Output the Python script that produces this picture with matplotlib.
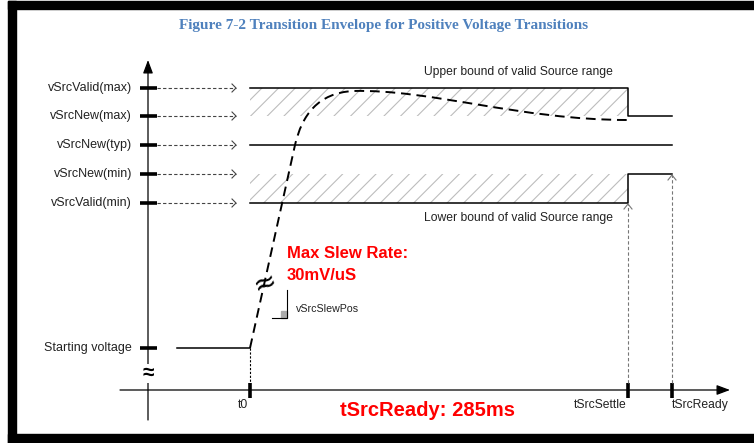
import numpy as np
import matplotlib.pyplot as plt
from matplotlib.path import Path
from matplotlib.patches import PathPatch, Rectangle

plt.rcParams['font.family'] = ['Liberation Sans', 'DejaVu Sans']
plt.rcParams['hatch.linewidth'] = 0.8

# voltage levels (pixel rows in the drawing) and their names
level_names = ['vSrcValid(max)', 'vSrcNew(max)', 'vSrcNew(typ)',
               'vSrcNew(min)', 'vSrcValid(min)', 'Starting voltage']
level_y = [88, 116, 145, 174, 203, 348]

# time marks
time_names = ['t0', 'tSrcSettle', 'tSrcReady']
time_x = [250, 628, 672]
time_label_x = [243, 600, 700]

# transition curve control points (line, then two cubic beziers)
curve_x = [250, 295, 302, 318, 353, 430, 520, 628]
curve_y = [348, 145, 115, 93, 91, 89, 120, 120]

axis_x = 148
axis_y = 390

fig = plt.figure(figsize=(7.54, 4.43), dpi=100)
ax = fig.add_axes([0, 0, 1, 1])
ax.set_xlim(0, 754)
ax.set_ylim(443, 0)
ax.axis('off')

# black frame
ax.add_patch(Rectangle((8, 1), 746, 8, color='k'))
ax.add_patch(Rectangle((8, 1), 8, 442, color='k'))
ax.add_patch(Rectangle((8, 434), 746, 9, color='k'))

ax.text(384, 25, 'Figure 7-2 Transition Envelope for Positive Voltage Transitions',
        ha='center', va='center', fontsize=11, fontweight='bold',
        family='Liberation Serif', color='#4F81BD')

# axes with arrows
arr = dict(arrowstyle='-|>,head_length=0.8,head_width=0.3', color='k', lw=0.9,
           shrinkA=0, shrinkB=0)
ax.annotate('', xy=(axis_x, 60), xytext=(axis_x, 420), arrowprops=arr)
ax.annotate('', xy=(730, axis_y), xytext=(120, axis_y), arrowprops=arr)

# level ticks, labels and dashed pointers
for i in range(len(level_y)):
    y = level_y[i]
    ax.plot([140, 157], [y, y], 'k', lw=2.6, solid_capstyle='butt')
    ax.text(132, y, level_names[i], ha='right', va='center', fontsize=9, color='#222')
    if i < 5:
        ax.plot([157, 236], [y, y], color='#444', lw=0.8, ls=(0, (3, 2)))
        ax.plot([232, 236, 232], [y - 4, y, y + 4], color='#444', lw=0.8)

# y axis break
ax.text(axis_x, 373, '≈', ha='center', va='center', fontsize=15, fontweight='bold',
        bbox=dict(facecolor='white', edgecolor='none', pad=0))

# time ticks and labels
for i in range(len(time_x)):
    ax.plot([time_x[i], time_x[i]], [383, 398], 'k', lw=2.6, solid_capstyle='butt')
    ax.text(time_label_x[i], 405, time_names[i], ha='center', va='center',
            fontsize=8.7, color='#222')

# starting voltage
ax.plot([177, time_x[0]], [level_y[5], level_y[5]], 'k', lw=1.1)
ax.plot([time_x[0], time_x[0]], [level_y[5], 383], 'k', lw=0.8, ls=(0, (2, 1.5)))

# hatched bands
for top, bot in [(level_y[0], level_y[1]), (level_y[3], level_y[4])]:
    ax.add_patch(Rectangle((time_x[0], top), time_x[1] - time_x[0], bot - top,
                           fill=False, hatch='//', edgecolor='#bdbdbd', lw=0))

ax.plot([time_x[0], time_x[1], time_x[1], time_x[2]],
        [level_y[0], level_y[0], level_y[1], level_y[1]], 'k', lw=1.1)
ax.plot([time_x[0], time_x[2]], [level_y[2], level_y[2]], 'k', lw=1.1)
ax.plot([time_x[0], time_x[1], time_x[1], time_x[2]],
        [level_y[4], level_y[4], level_y[3], level_y[3]], 'k', lw=1.1)

ax.text(518, 72, 'Upper bound of valid Source range', ha='center', va='center', fontsize=8.7, color='#222')
ax.text(518, 218, 'Lower bound of valid Source range', ha='center', va='center', fontsize=8.7, color='#222')

# settle / ready dashed verticals
for x, ytop in [(time_x[1], level_y[4]), (time_x[2], level_y[3])]:
    ax.plot([x, x], [383, ytop + 1], color='#777', lw=0.8, ls=(0, (3, 2)))
    ax.plot([x - 4, x, x + 4], [ytop + 6, ytop + 1, ytop + 6], color='#777', lw=0.8)

# transition curve
codes = [Path.MOVETO, Path.LINETO] + [Path.CURVE4] * 6
path = Path(np.column_stack([curve_x, curve_y]), codes)
ax.add_patch(PathPatch(path, fill=False, lw=1.4, ls=(0, (5, 3)), edgecolor='k'))

ax.text(265, 283, '≈', ha='center', va='center', fontsize=20, rotation=20,
        family='DejaVu Sans')

# slew marker
ax.plot([287, 287, 272], [290, 318, 318], 'k', lw=0.8)
ax.add_patch(Rectangle((281, 311), 6, 7, color='#aaaaaa'))
ax.text(296, 309, 'vSrcSlewPos', va='center', fontsize=7.7, color='#222')

ax.text(287, 253, 'Max Slew Rate:', va='center', fontsize=12, fontweight='bold', color='red')
ax.text(287, 276, '30mV/uS', va='center', fontsize=12, fontweight='bold', color='red')
ax.text(427, 411, 'tSrcReady: 285ms', ha='center', va='center', fontsize=14.5,
        fontweight='bold', color='red')

fig.savefig('out.png', dpi=100)
